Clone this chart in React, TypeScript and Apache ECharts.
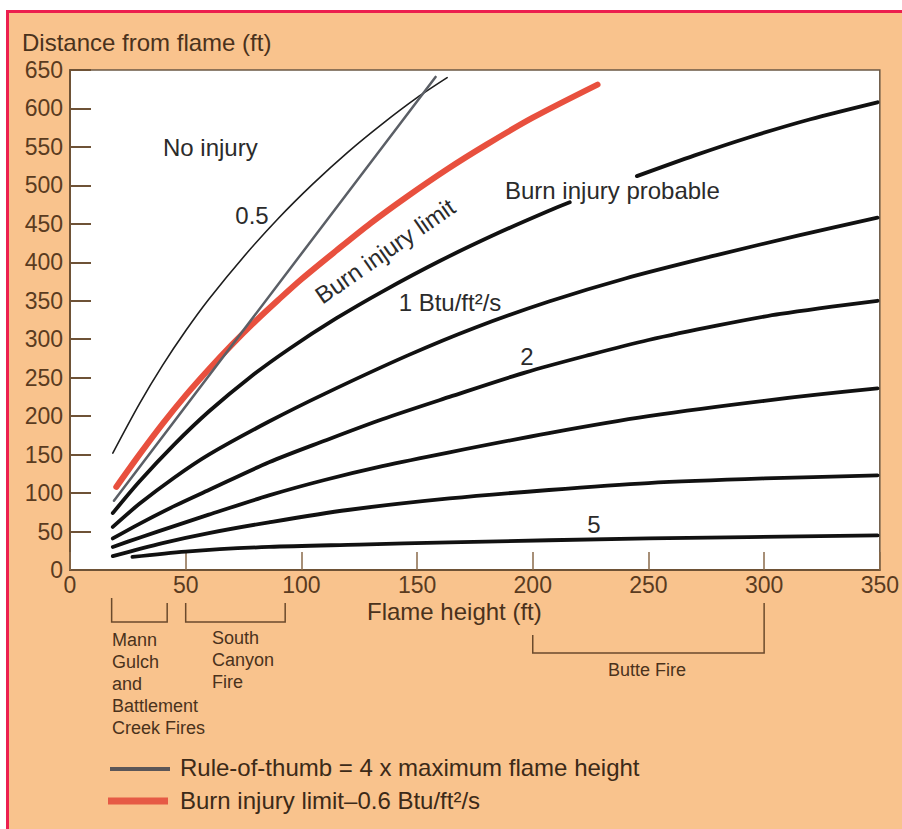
import React, { useEffect, useRef } from "react";
import * as echarts from "echarts";

// ---- axes ----
const X_MIN = 0;
const X_MAX = 350;
const X_STEP = 50;
const Y_MIN = 0;
const Y_MAX = 650;
const Y_STEP = 50;

// ---- curves: [flame height (ft), distance from flame (ft)] ----
const flux05: [number, number][] = [
  [18.5, 152], [30, 216], [40, 266], [50, 311], [60, 352], [75, 407], [90, 457],
  [105, 502], [120, 543], [135, 580], [150, 614], [163, 640],
];
const ruleOfThumb: [number, number][] = [[19, 90], [158, 641]];
const burnLimit: [number, number][] = [
  [20, 108], [30, 150], [40, 190], [50, 227], [60, 261], [70, 293], [80, 323],
  [90, 351], [100, 378], [115, 415], [130, 451], [145, 484], [163, 521],
  [180, 553], [200, 588], [228, 631],
];
const curveALeft: [number, number][] = [
  [18.5, 74], [30, 115], [45, 163], [60, 206], [78, 251], [95, 288],
  [115, 327], [135, 362], [160, 402], [185, 438], [207, 467], [216, 478],
];
const curveARight: [number, number][] = [
  [245, 512], [270, 539], [293, 562], [320, 586], [349, 608],
];
const curveB: [number, number][] = [
  [18.5, 56], [30, 86], [45, 120], [60, 150], [86, 193], [110, 229],
  [146, 279], [175, 315], [207, 349], [240, 379], [279, 409], [315, 435], [349, 458],
];
const curveC: [number, number][] = [
  [18.5, 41], [30, 60], [45, 83], [60, 104], [86, 140], [110, 168], [135, 196],
  [164, 225], [197, 257], [225, 280], [250, 299], [280, 318], [307, 333], [349, 350],
];
const curveD: [number, number][] = [
  [18.5, 30], [30, 42], [45, 57], [60, 72], [86, 97], [110, 117], [135, 135],
  [164, 153], [207, 178], [250, 200], [300, 220], [349, 236],
];
const curveE: [number, number][] = [
  [18.5, 18], [40, 35], [60, 48], [86, 62], [120, 78], [164, 93],
  [207, 104], [250, 113], [300, 119], [349, 123],
];
const curveF: [number, number][] = [
  [27, 17], [50, 24], [86, 30], [125, 33], [164, 36], [250, 41], [349, 45],
];

// ---- fire flame-height ranges (ft) ----
const mannGulchRange = [18, 42];
const southCanyonRange = [50, 93];
const butteRange = [200, 300];

const FONT = "'Liberation Sans', Arial, Helvetica, sans-serif";
const BROWN_TEXT = "#4a321c";
const AXIS_BROWN = "#6e5236";

export default function App() {
  const ref = useRef<HTMLDivElement>(null);

  useEffect(() => {
    document.body.style.margin = "0";
    const chart = echarts.init(ref.current!, null, { renderer: "svg" });

    const line = (name: string, data: [number, number][], color: string, width: number, z: number) => ({
      type: "line",
      name,
      data,
      showSymbol: false,
      symbol: "none",
      smooth: 0.3,
      silent: true,
      z,
      lineStyle: { color, width, cap: "round", join: "round" },
    });

    chart.setOption({
      animation: false,
      grid: {
        left: 70,
        top: 70,
        width: 812,
        height: 500,
        show: true,
        backgroundColor: "#ffffff",
        borderColor: "#6b5844",
        borderWidth: 1.5,
      },
      xAxis: {
        type: "value",
        min: X_MIN,
        max: X_MAX,
        interval: X_STEP,
        splitLine: { show: false },
        axisLine: { show: true, lineStyle: { color: AXIS_BROWN, width: 2 } },
        axisTick: { show: true, inside: true, length: 18, lineStyle: { color: "#8a6a4a", width: 1.5 } },
        axisLabel: { color: "#5a3b1f", fontSize: 23, fontFamily: FONT, margin: 3 },
      },
      yAxis: {
        type: "value",
        min: Y_MIN,
        max: Y_MAX,
        interval: Y_STEP,
        splitLine: { show: false },
        axisLine: { show: true, lineStyle: { color: AXIS_BROWN, width: 2 } },
        axisTick: { show: true, inside: true, length: 21, lineStyle: { color: AXIS_BROWN, width: 2 } },
        axisLabel: { color: "#5a3b1f", fontSize: 23, fontFamily: FONT, margin: 7 },
      },
      series: [
        line("0.5", flux05, "#1e1e1e", 1.6, 3),
        line("Burn injury limit–0.6 Btu/ft²/s", burnLimit, "#e8503e", 6, 3),
        line("Rule-of-thumb", ruleOfThumb, "#5b5f66", 2.5, 4),
        line("curve A", curveALeft, "#111111", 3.8, 5),
        line("curve A (cont.)", curveARight, "#111111", 3.8, 5),
        line("curve B", curveB, "#111111", 3.8, 5),
        line("curve C", curveC, "#111111", 3.8, 5),
        line("curve D", curveD, "#111111", 3.8, 5),
        line("curve E", curveE, "#111111", 3.8, 5),
        line("curve F", curveF, "#111111", 3.8, 5),
      ],
    });

    const px = (x: number) => (chart.convertToPixel({ gridIndex: 0 }, [x, 0]) as number[])[0];

    const text = (
      t: string, x: number, y: number, size: number, fill: string,
      align: string = "left", rotation = 0
    ) => ({
      type: "text",
      x,
      y,
      rotation,
      silent: true,
      z: 100,
      style: {
        text: t,
        fontSize: size,
        fontFamily: FONT,
        fill,
        align,
        textAlign: align,
        verticalAlign: "middle",
        textVerticalAlign: "middle",
      },
    });

    const bracketStroke = { stroke: "#6b4a2c", lineWidth: 1.5, fill: "none" };
    const bracket = (range: number[], yBar: number, yLeftTop: number, yRightTop: number) => ({
      type: "polyline",
      silent: true,
      z: 100,
      shape: {
        points: [
          [px(range[0]), yLeftTop],
          [px(range[0]), yBar],
          [px(range[1]), yBar],
          [px(range[1]), yRightTop],
        ],
      },
      style: bracketStroke,
    });

    const inner = "#2b2b2b";
    const elements: any[] = [
      text("Distance from flame (ft)", 22, 42, 24, BROWN_TEXT),
      text("Flame height (ft)", 367, 611, 24, BROWN_TEXT),
      // in-plot annotations
      text("No injury", 163, 147, 24, inner),
      text("0.5", 252, 215, 24, inner, "center"),
      text("Burn injury limit", 385, 251, 24, inner, "center", (34.8 * Math.PI) / 180),
      text("1 Btu/ft²/s", 450, 302, 24, inner, "center"),
      text("2", 527, 356, 24, inner, "center"),
      text("5", 594, 524, 24, inner, "center"),
      text("Burn injury probable", 505, 190, 24, inner),
      // fire brackets
      bracket(mannGulchRange, 622, 598, 603),
      bracket(southCanyonRange, 622, 603, 603),
      bracket(butteRange, 653, 635, 603),
      text("Mann", 112, 640, 18, BROWN_TEXT),
      text("Gulch", 112, 662, 18, BROWN_TEXT),
      text("and", 112, 684, 18, BROWN_TEXT),
      text("Battlement", 112, 706, 18, BROWN_TEXT),
      text("Creek Fires", 112, 728, 18, BROWN_TEXT),
      text("South", 212, 638, 18, BROWN_TEXT),
      text("Canyon", 212, 660, 18, BROWN_TEXT),
      text("Fire", 212, 682, 18, BROWN_TEXT),
      text("Butte Fire", 647, 670, 18, BROWN_TEXT, "center"),
      // legend
      {
        type: "line",
        silent: true,
        z: 100,
        shape: { x1: 110, y1: 769, x2: 170, y2: 769 },
        style: { stroke: "#5b5658", lineWidth: 4 },
      },
      {
        type: "line",
        silent: true,
        z: 100,
        shape: { x1: 108, y1: 801, x2: 168, y2: 801 },
        style: { stroke: "#e65a45", lineWidth: 7 },
      },
      text("Rule-of-thumb = 4 x maximum flame height", 180, 767, 24, "#3c2a18"),
      text("Burn injury limit–0.6 Btu/ft²/s", 180, 800, 24, "#3c2a18"),
    ];

    chart.setOption({ graphic: { elements } });

    return () => {
      chart.dispose();
    };
  }, []);

  return (
    <div style={{ position: "relative", width: 902, height: 829, background: "#ffffff", overflow: "hidden" }}>
      <div
        style={{
          position: "absolute",
          left: 6,
          top: 10,
          width: 896,
          height: 819,
          background: "#f9c38d",
          borderTop: "3px solid #ec1f4f",
          borderLeft: "3px solid #ec1f4f",
          boxSizing: "border-box",
        }}
      />
      <div ref={ref} style={{ position: "absolute", left: 0, top: 0, width: 902, height: 829 }} />
    </div>
  );
}
